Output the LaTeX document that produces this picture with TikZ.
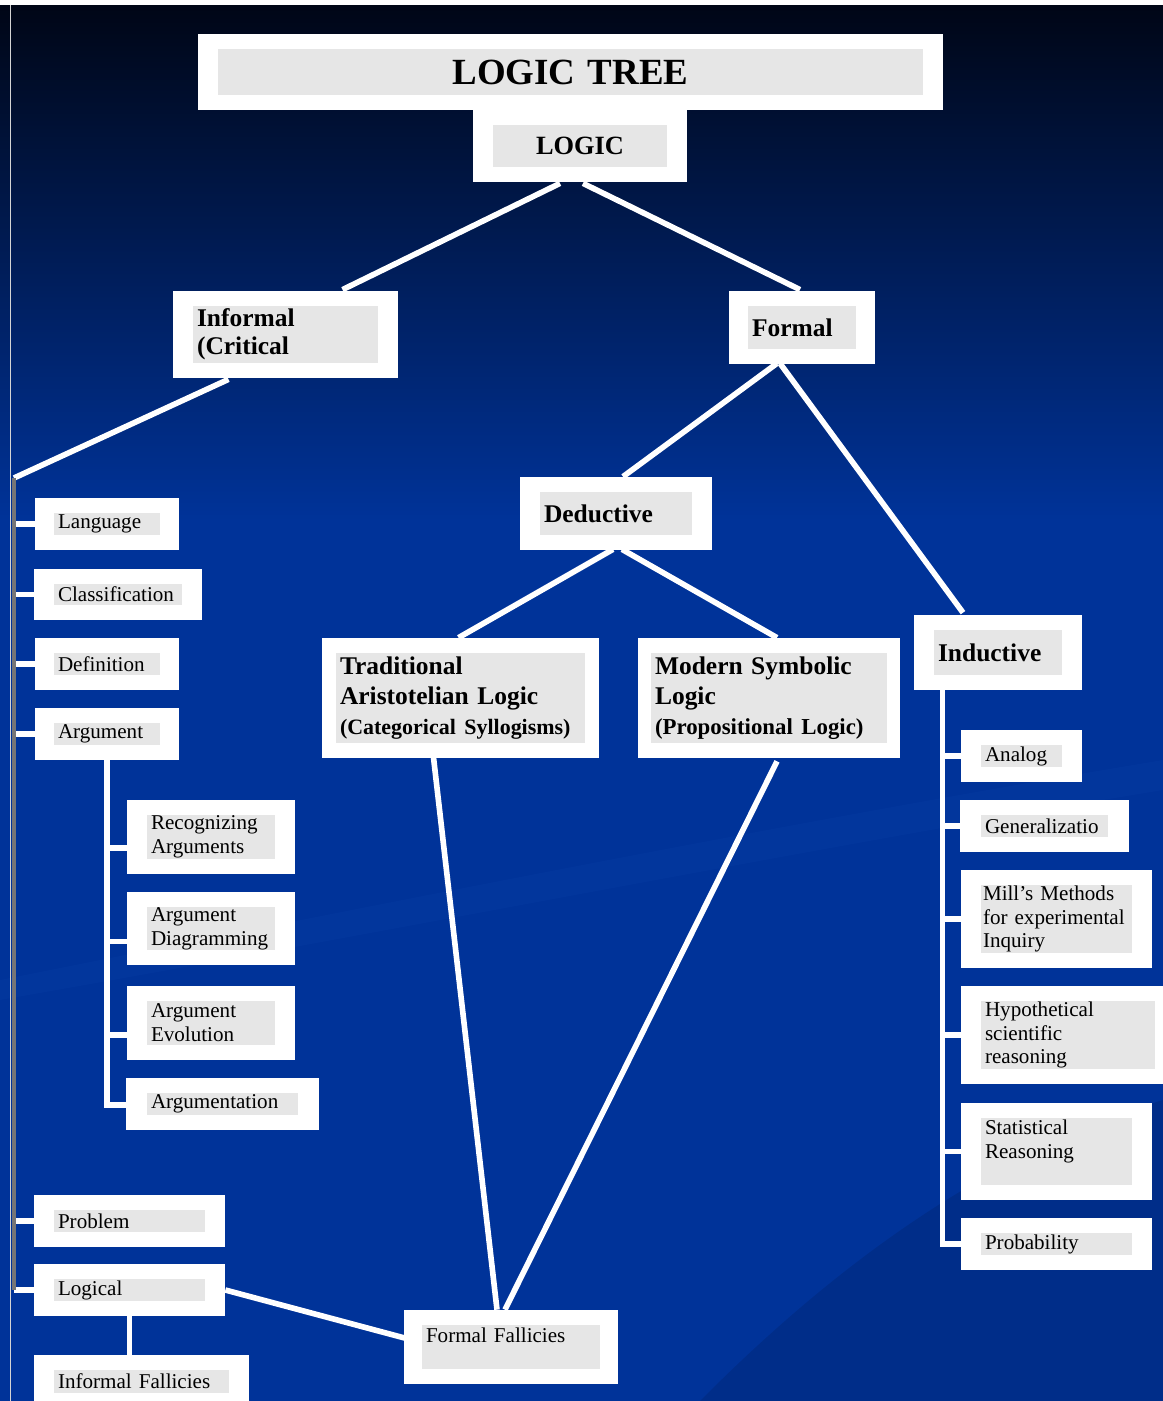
\documentclass[tikz,border=0pt]{standalone}
\usepackage{fontspec}
\setmainfont{Liberation Serif}
\usetikzlibrary{positioning}
\definecolor{deepnavy}{HTML}{000616}
\definecolor{slideblue}{HTML}{003399}
\definecolor{swoosh}{HTML}{0A3FA8}
\definecolor{boxgray}{HTML}{E6E6E6}
\definecolor{trunkgray}{HTML}{767676}
\definecolor{edgegray}{HTML}{D4D4D4}
\pgfdeclarelayer{backdrop}
\pgfdeclarelayer{background}
\pgfsetlayers{backdrop,background,main}

\begin{document}
\begin{tikzpicture}[x=0.02cm,y=-0.02cm]
\tikzstyle{cell}=[rectangle,fill=boxgray,inner xsep=0.08cm,inner ysep=0pt,align=left,font=\fontsize{12}{13.6}\selectfont]
\tikzstyle{leaf}=[cell,minimum height=0.44cm]
\tikzstyle{pair}=[cell,minimum height=0.88cm]
\tikzstyle{head}=[cell,font=\bfseries\fontsize{14.5}{16}\selectfont]
\tikzstyle{link}=[white,line width=3.2pt]
\useasboundingbox (0,0) rectangle (1163,1401);

% top of the tree
\node (title) [cell,text width=13.94cm,minimum height=0.92cm,align=center,font=\bfseries\fontsize{21}{24}\selectfont] at (570.5,72) {LOGIC TREE};
\node (logic) [cell,text width=3.32cm,minimum height=0.84cm,align=center,font=\bfseries\fontsize{15}{17}\selectfont] at (580,146) {LOGIC};
\node (informal) [head,text width=3.54cm,minimum height=1.14cm] at (285.5,334.5) {Informal\\(Critical};
\node (formal) [head,text width=2.0cm,minimum height=0.86cm] at (802,327.5) {Formal};
\node (deductive) [head,text width=2.88cm,minimum height=0.86cm] at (616,513.5) {Deductive};
\node (trad) [head,text width=4.82cm,minimum height=1.8cm,font=\bfseries\fontsize{14.5}{17}\selectfont] at (460.5,698) {Traditional\\Aristotelian Logic\\{\fontsize{12.5}{17}\selectfont(Categorical Syllogisms)}};
\node (modern) [head,text width=4.56cm,minimum height=1.8cm,font=\bfseries\fontsize{14.5}{17}\selectfont] at (769,698) {Modern Symbolic\\Logic\\{\fontsize{13}{17}\selectfont(Propositional Logic)}};
\node (inductive) [head,text width=2.4cm,minimum height=0.9cm] at (998,652.5) {Inductive};

% informal side
\node (language) [leaf,text width=1.96cm] at (107,524) {Language};
\node (classification) [leaf,text width=2.4cm,minimum height=0.42cm] at (118,594.5) {Classification};
\node (definition) [leaf,text width=1.96cm] at (107,664) {Definition};
\node (argument) [leaf,text width=1.96cm] at (107,734) {Argument};
\node (recog) [pair,text width=2.4cm] at (211,837) {Recognizing\\Arguments};
\node (diag) [pair,text width=2.4cm,minimum height=0.86cm] at (211,928.5) {Argument\\Diagramming};
\node (evol) [pair,text width=2.4cm] at (211,1023) {Argument\\Evolution};
\node (argumentation) [leaf,text width=2.86cm] at (222.5,1104) {Argumentation};
\node (problem) [leaf,text width=2.86cm] at (129.5,1221) {Problem};
\node (logical) [leaf,text width=2.86cm] at (129.5,1290) {Logical};
\node (infall) [leaf,text width=3.34cm,minimum height=0.46cm] at (141.5,1381.5) {Informal Fallicies};
\node (forfall) [pair,text width=3.4cm] at (511,1347) {Formal Fallicies\\~};

% inductive side
\node (analog) [leaf,text width=1.46cm] at (1021.5,756) {Analog};
\node (general) [leaf,text width=2.38cm] at (1044.5,826) {Generalizatio};
\node (mills) [cell,text width=2.94cm,inner xsep=0.04cm,minimum height=1.36cm] at (1056.5,919) {Mill’s Methods\\for experimental\\Inquiry};
\node (hypo) [cell,text width=3.32cm,minimum height=1.36cm] at (1068,1035) {Hypothetical\\scientific\\reasoning};
\node (stat) [cell,text width=2.86cm,minimum height=1.34cm] at (1056.5,1151.5) {Statistical\\Reasoning\\~};
\node (prob) [leaf,text width=2.86cm] at (1056.5,1244) {Probability};

\coordinate (ltrunk) at (14,478);

\begin{pgfonlayer}{backdrop}
\fill[white] (0,0) rectangle (1163,1401);
\shade[top color=deepnavy,bottom color=slideblue] (0,5) rectangle (1163,520);
\fill[slideblue] (0,519) rectangle (1163,1401);
\fill[swoosh,opacity=0.25] (0,980) .. controls (400,900) and (800,820) .. (1163,760) -- (1163,790) .. controls (800,850) and (400,930) .. (0,1000) -- cycle;
\fill[deepnavy,opacity=0.12] (700,1401) .. controls (850,1250) and (1000,1150) .. (1163,1100) -- (1163,1401) -- cycle;
\draw[edgegray,line width=1.1pt] (10.5,5) -- (10.5,1401);
\end{pgfonlayer}

\begin{pgfonlayer}{background}
\foreach \n/\fx in {title/20,logic/20,informal/20,formal/19,deductive/20,trad/14,modern/13,inductive/20,language/19,classification/20,definition/19,argument/19,recog/20,diag/20,evol/20,argumentation/21,problem/20,logical/20,infall/20,forfall/18,analog/20,general/21,mills/20,hypo/20,stat/20,prob/20}
  \fill[white] ([shift={(-\fx,-15)}]\n.north west) rectangle ([shift={(\fx,15)}]\n.south east);
% tree links
\draw[link] ([shift={(-20,16)}]logic.south) -- ([shift={(57,-16)}]informal.north);
\draw[link] ([shift={(3,16)}]logic.south) -- ([shift={(-2,-16)}]formal.north);
\draw[link] ([shift={(-57,16)}]informal.south) -- (ltrunk);
\draw[link] ([shift={(-25,14)}]formal.south) -- ([shift={(7,-15)}]deductive.north);
\draw[link] ([shift={(-22,14)}]formal.south) -- ([shift={(-35,-17)}]inductive.north);
\draw[link] ([shift={(-3,14)}]deductive.south) -- ([shift={(-2,-15)}]trad.north);
\draw[link] ([shift={(6,14)}]deductive.south) -- ([shift={(8,-15)}]modern.north);
\draw[link] ([shift={(-27,14)}]trad.south) -- ([shift={(-14,-15)}]forfall.north);
\draw[link] ([shift={(8,18)}]modern.south) -- ([shift={(-6,-15)}]forfall.north);
\draw[link] ([shift={(20,0)}]logical.east) -- ([shift={(-17,-9)}]forfall.west);
\draw[link] (logical.south) -- (logical.south |- infall.north);
% bracket lines
\foreach \n in {language,classification,definition,argument,problem,logical}
  \draw[link] (ltrunk |- \n.west) -- (\n.west);
\draw[trunkgray,line width=2.3pt] (ltrunk) -- (ltrunk |- logical.west);
\foreach \n/\dy in {recog/11,diag/13,evol/12,argumentation/1}
  \draw[link] (argument.south) |- ([shift={(0,\dy)}]\n.west);
\foreach \n in {analog,general,mills,hypo,stat,prob}
  \draw[link] ([shift={(9,0)}]inductive.south west) |- (\n.west);
\end{pgfonlayer}
\end{tikzpicture}
\end{document}
